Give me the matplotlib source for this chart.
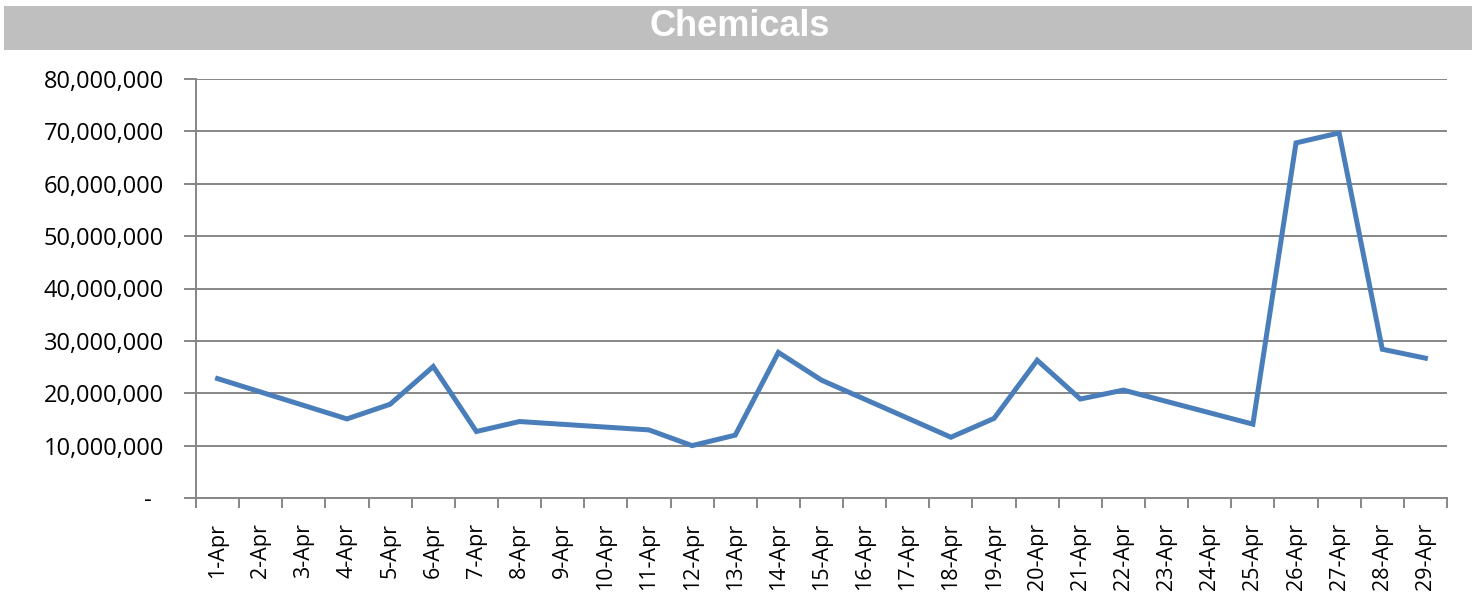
import matplotlib
matplotlib.use("Agg")
import matplotlib.pyplot as plt
from matplotlib.patches import Rectangle
from matplotlib.ticker import FuncFormatter, FixedLocator
import numpy as np

title = "Chemicals"
dates = [f"{d}-Apr" for d in range(1, 30)]
values = [22.8e6, None, None, 15.1e6, 17.9e6, 25.1e6, 12.7e6, 14.6e6, None, None,
          13.0e6, 10.0e6, 12.0e6, 27.8e6, 22.5e6, None, None, 11.6e6, 15.2e6, 26.3e6,
          18.9e6, 20.6e6, None, None, 14.1e6, 67.8e6, 69.7e6, 28.4e6, 26.7e6]
yticks = [0, 10e6, 20e6, 30e6, 40e6, 50e6, 60e6, 70e6, 80e6]

W, H = 1472, 598
fig = plt.figure(figsize=(W / 100, H / 100), dpi=100)
font = "Open Sans"
grid_c = "#868686"

# title banner
fig.patches.append(Rectangle((4 / W, 1 - 50 / H), 1 - 4 / W, 44 / H,
                             transform=fig.transFigure, facecolor="#BFBFBF",
                             edgecolor="none", zorder=0))
fig.text(740 / W, 1 - 27 / H, title, ha="center", va="center", color="white",
         fontsize=26, fontweight="bold", family="Liberation Sans")

ax = fig.add_axes([196 / W, (H - 498) / H, (1447 - 196) / W, (498 - 79) / H])
x = np.arange(len(dates))
xv = [i for i, v in zip(x, values) if v is not None]
yv = [v for v in values if v is not None]
ax.plot(xv, yv, color="#4A7EBB", lw=3.6, solid_joinstyle="miter", zorder=3)

ax.set_xlim(-0.5, len(dates) - 0.5)
ax.set_ylim(0, 80e6)
ax.set_yticks(yticks)
ax.yaxis.set_major_formatter(FuncFormatter(lambda v, p: "-  " if v == 0 else f"{v:,.0f}"))
ax.grid(axis="y", color=grid_c, lw=1.4)
ax.set_axisbelow(True)

ax.xaxis.set_major_locator(FixedLocator(np.arange(-0.5, len(dates), 1.0)))
ax.xaxis.set_major_formatter(FuncFormatter(lambda v, p: ""))
ax.xaxis.set_minor_locator(FixedLocator(x))
ax.set_xticklabels(dates, minor=True, rotation=90, fontsize=15.5, family=font)
ax.tick_params(axis="x", which="minor", length=0, pad=18)
ax.tick_params(axis="x", which="major", length=7, width=1.4, color=grid_c)
ax.tick_params(axis="y", length=9, width=1.4, color=grid_c, pad=14, labelsize=17)
for lab in ax.get_yticklabels():
    lab.set_family(font)

for s in ["top", "right"]:
    ax.spines[s].set_visible(False)
for s in ["left", "bottom"]:
    ax.spines[s].set_color(grid_c)
    ax.spines[s].set_linewidth(1.4)

fig.savefig("out.png", dpi=100, facecolor="white")
